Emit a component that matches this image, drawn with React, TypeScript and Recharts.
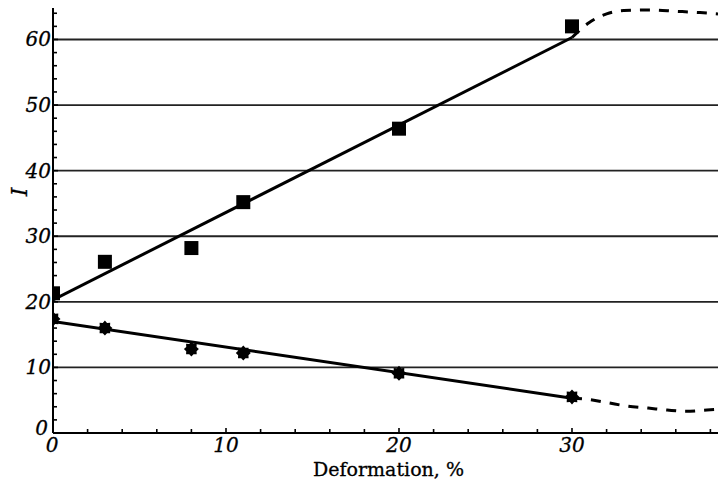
import React from "react";
import {
  ComposedChart,
  Line,
  Scatter,
  XAxis,
  YAxis,
  ReferenceLine,
  Label,
} from "recharts";

// measured points (squares, upper series)
const squaresX = [0, 3, 8, 11, 20, 30];
const squaresY = [21.3, 26.1, 28.2, 35.2, 46.4, 62.0];
// measured points (stars, lower series)
const starsX = [0, 3, 8, 11, 20, 30];
const starsY = [17.4, 16.0, 12.8, 12.2, 9.1, 5.5];
// linear fits
const upperFitX = [0, 30];
const upperFitY = [20.3, 60.3];
const lowerFitX = [0, 30];
const lowerFitY = [17.0, 5.3];
// dashed extrapolations
const upperDashX = [30, 31, 32, 33, 34.5, 36, 37.4, 38.44];
const upperDashY = [60.3, 62.6, 63.9, 64.4, 64.5, 64.3, 64.1, 63.9];
const lowerDashX = [30, 31, 32.1, 33.2, 34.4, 35.5, 36.6, 37.8, 38.44];
const lowerDashY = [5.3, 5.1, 4.6, 4.1, 3.8, 3.5, 3.3, 3.5, 3.6];

const xTicks = [0, 2, 4, 6, 8, 10, 12, 14, 16, 18, 20, 22, 24, 26, 28, 30, 32, 34, 36, 38];
const yTicks = [0, 2, 4, 6, 8, 10, 12, 14, 16, 18, 20, 22, 24, 26, 28, 30, 32, 34, 36, 38, 40, 42, 44, 46, 48, 50, 52, 54, 56, 58, 60, 62, 64];
const gridValues = [10, 20, 30, 40, 50, 60];

const zip = (xs: number[], ys: number[]) => xs.map((x, i) => ({ x, y: ys[i] }));

const squares = zip(squaresX, squaresY);
const stars = zip(starsX, starsY);
const upperFit = zip(upperFitX, upperFitY);
const lowerFit = zip(lowerFitX, lowerFitY);
const upperDash = zip(upperDashX, upperDashY);
const lowerDash = zip(lowerDashX, lowerDashY);

const FONT = "'DejaVu Serif', serif";

const XTick = (props: any) => {
  const { x, y, payload } = props;
  const major = payload.value % 10 === 0;
  return (
    <g>
      <line x1={x} x2={x} y1={y} y2={y - (major ? 5 : 4)} stroke="#000" strokeWidth={1.6} />
      {major && (
        <text
          x={payload.value === 0 ? x - 1 : x}
          y={y + 19}
          textAnchor="middle"
          fontFamily={FONT}
          fontStyle="italic"
          fontSize={20}
          fill="#000"
          stroke="#000"
          strokeWidth={0.3}
        >
          {payload.value}
        </text>
      )}
    </g>
  );
};

const YTick = (props: any) => {
  const { x, y, payload } = props;
  const major = payload.value % 10 === 0;
  return (
    <g>
      <line x1={x} x2={x + (major ? 5 : 4)} y1={y} y2={y} stroke="#000" strokeWidth={1.6} />
      {major && (
        <text
          x={payload.value === 0 ? x - 5 : x - 2}
          y={y + (payload.value === 0 ? 2 : 7)}
          textAnchor="end"
          fontFamily={FONT}
          fontStyle="italic"
          fontSize={20}
          fill="#000"
          stroke="#000"
          strokeWidth={0.3}
        >
          {payload.value}
        </text>
      )}
    </g>
  );
};

const SquareShape = (props: any) => {
  const { cx, cy } = props;
  return <rect x={cx - 7} y={cy - 7} width={14} height={14} fill="#000" />;
};

const StarShape = (props: any) => {
  const { cx, cy } = props;
  const pts: string[] = [];
  for (let i = 0; i < 16; i++) {
    const r = i % 2 === 0 ? 7.5 : 5.6;
    const a = (Math.PI * 2 * i) / 16;
    pts.push(`${cx + r * Math.cos(a)},${cy + r * Math.sin(a)}`);
  }
  return <polygon points={pts.join(" ")} fill="#000" />;
};

export default function App() {
  return (
    <div style={{ position: "absolute", left: 0, top: 0, background: "#fff" }}>
      <ComposedChart width={718} height={483} margin={{ top: 8, right: 0, left: 0, bottom: 0 }}>
        {gridValues.map((v) => (
          <ReferenceLine key={v} y={v} stroke="#222" strokeWidth={1.8} ifOverflow="hidden" />
        ))}
        <XAxis
          type="number"
          dataKey="x"
          domain={[0, 38.44]}
          ticks={xTicks}
          allowDataOverflow
          height={50}
          tickSize={0}
          tickMargin={0}
          tickLine={false}
          axisLine={{ stroke: "#000", strokeWidth: 2 }}
          tick={<XTick />}
          interval={0}
        >
          <Label
            content={(p: any) => {
              const vb = p.viewBox;
              return (
                <text
                  x={vb.x + vb.width / 2 + 3}
                  y={vb.y + 43}
                  textAnchor="middle"
                  fontFamily={FONT}
                  fontSize={19}
                  fill="#000"
                  stroke="#000"
                  strokeWidth={0.3}
                >
                  Deformation, %
                </text>
              );
            }}
          />
        </XAxis>
        <YAxis
          type="number"
          dataKey="y"
          domain={[0, 64.8]}
          ticks={yTicks}
          allowDataOverflow
          width={53}
          tickSize={0}
          tickMargin={0}
          tickLine={false}
          axisLine={{ stroke: "#000", strokeWidth: 2 }}
          tick={<YTick />}
          interval={0}
        >
          <Label
            content={(p: any) => {
              const vb = p.viewBox;
              const cx = vb.x + 19;
              const cy = 192;
              return (
                <text
                  x={cx}
                  y={cy}
                  transform={`rotate(-90 ${cx} ${cy})`}
                  textAnchor="middle"
                  dominantBaseline="central"
                  fontFamily={FONT}
                  fontStyle="italic"
                  fontSize={22}
                  fill="#000"
                  stroke="#000"
                  strokeWidth={0.3}
                >
                  I
                </text>
              );
            }}
          />
        </YAxis>
        <Line data={upperFit} dataKey="y" type="linear" stroke="#000" strokeWidth={3} dot={false} isAnimationActive={false} />
        <Line data={lowerFit} dataKey="y" type="linear" stroke="#000" strokeWidth={3} dot={false} isAnimationActive={false} />
        <Line data={upperDash} dataKey="y" type="monotone" stroke="#000" strokeWidth={3} strokeDasharray="10 9" dot={false} isAnimationActive={false} />
        <Line data={lowerDash} dataKey="y" type="monotone" stroke="#000" strokeWidth={3} strokeDasharray="10 9" dot={false} isAnimationActive={false} />
        <Scatter data={squares} dataKey="y" shape={<SquareShape />} isAnimationActive={false} />
        <Scatter data={stars} dataKey="y" shape={<StarShape />} isAnimationActive={false} />
      </ComposedChart>
    </div>
  );
}
